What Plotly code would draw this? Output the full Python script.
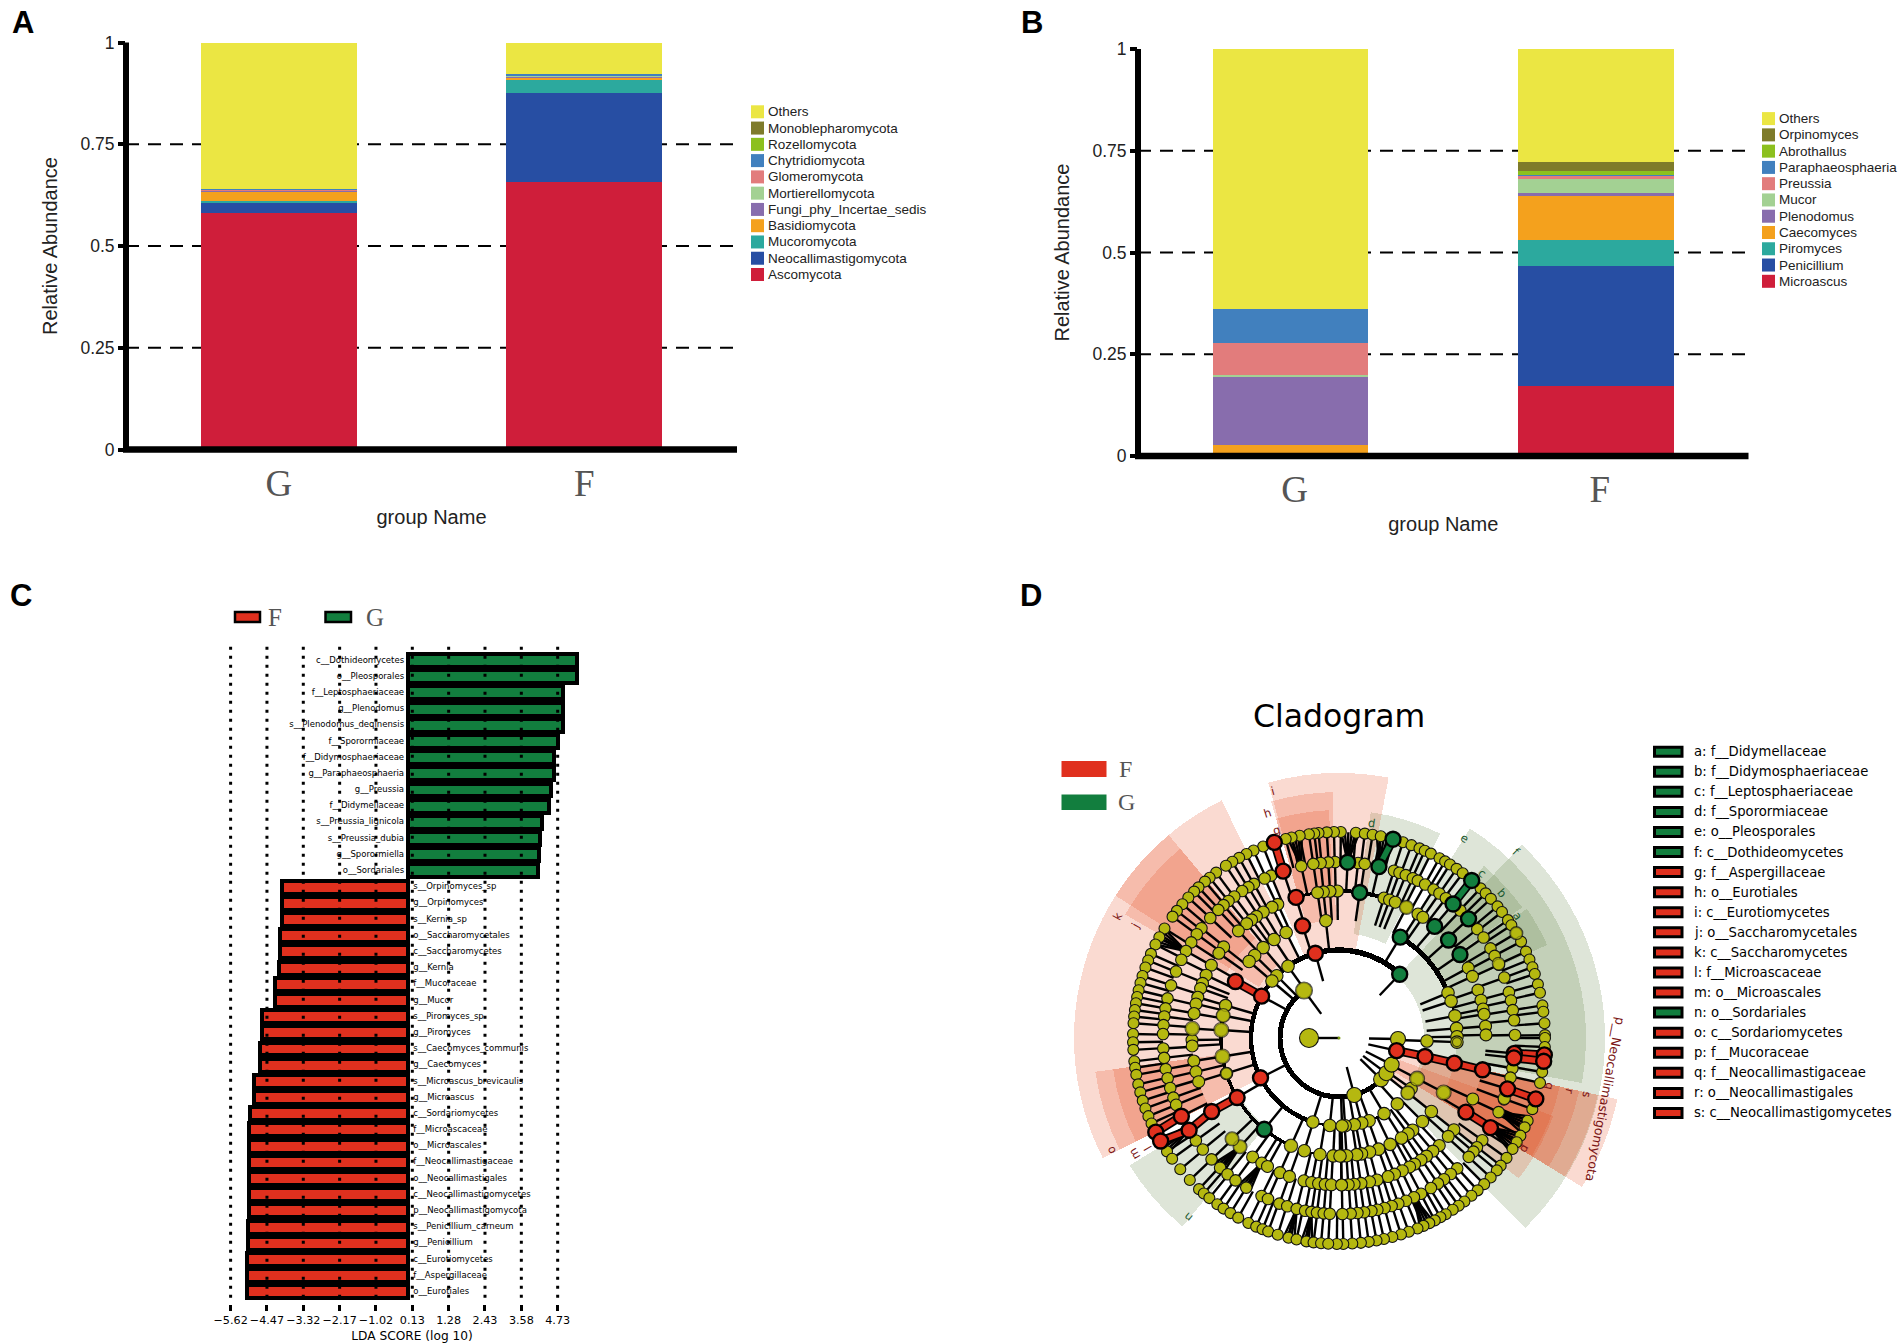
import math
import plotly.graph_objects as go

W, H = 1902, 1343
SANS = "Liberation Sans"
SERIF = "Liberation Serif"
DEJAVU = "DejaVu Sans"

# ---------- Panel A data ----------
groups = ["G", "F"]
phylum_names = ["Ascomycota", "Neocallimastigomycota", "Mucoromycota", "Basidiomycota", "Fungi_phy_Incertae_sedis",
                "Mortierellomycota", "Glomeromycota", "Chytridiomycota", "Rozellomycota", "Monoblepharomycota", "Others"]
phylum_G = [0.582, 0.025, 0.004, 0.024, 0.002, 0.001, 0.002, 0.001, 0.0, 0.0, 0.359]
phylum_F = [0.657, 0.218, 0.034, 0.006, 0.002, 0.002, 0.002, 0.001, 0.0, 0.0, 0.078]
# ---------- Panel B data ----------
genus_names = ["Microascus", "Penicillium", "Piromyces", "Caecomyces", "Plenodomus", "Mucor", "Preussia",
               "Paraphaeosphaeria", "Abrothallus", "Orpinomyces", "Others"]
genus_G = [0.001, 0.001, 0.005, 0.020, 0.169, 0.004, 0.077, 0.085, 0.0, 0.0, 0.638]
genus_F = [0.171, 0.296, 0.063, 0.108, 0.009, 0.033, 0.010, 0.001, 0.010, 0.021, 0.278]
stack_colors = ["#CF1E3A", "#274EA3", "#2CA99E", "#F4A11D", "#886DAD", "#A3D193", "#E27C7C", "#4180BE", "#8CC01E",
                "#7E7B2A", "#EBE643"]
y_ticks = [0, 0.25, 0.5, 0.75, 1]
y_tick_text = ["0", "0.25", "0.5", "0.75", "1"]
dash_levels = [0.25, 0.5, 0.75]

# ---------- Panel C data ----------
lda_green_names = ["c__Dothideomycetes", "o__Pleosporales", "f__Leptosphaeriaceae", "g__Plenodomus",
                   "s__Plenodomus_deqinensis", "f__Sporormiaceae", "f__Didymosphaeriaceae", "g__Paraphaeosphaeria",
                   "g__Preussia", "f__Didymellaceae", "s__Preussia_lignicola", "s__Preussia_dubia", "g__Sporormiella",
                   "o__Sordariales"]
lda_green = [5.35, 5.34, 4.91, 4.91, 4.91, 4.74, 4.62, 4.62, 4.53, 4.45, 4.23, 4.17, 4.15, 4.11]
lda_red_names = ["s__Orpinomyces_sp", "g__Orpinomyces", "s__Kernia_sp", "o__Saccharomycetales", "c__Saccharomycetes",
                 "g__Kernia", "f__Mucoraceae", "g__Mucor", "s__Piromyces_sp", "g__Piromyces",
                 "s__Caecomyces_communis", "g__Caecomyces", "s__Microascus_brevicaulis", "g__Microascus",
                 "c__Sordariomycetes", "f__Microascaceae", "o__Microascales", "f__Neocallimastigaceae",
                 "o__Neocallimastigales", "c__Neocallimastigomycetes", "p__Neocallimastigomycota",
                 "s__Penicillium_carneum", "g__Penicillium", "c__Eurotiomycetes", "f__Aspergillaceae", "o__Eurotiales"]
lda_red = [-4.00, -4.00, -4.00, -4.06, -4.06, -4.09, -4.20, -4.20, -4.62, -4.62, -4.69, -4.70, -4.87, -4.89, -5.02,
           -5.04, -5.04, -5.05, -5.05, -5.05, -5.05, -5.06, -5.06, -5.09, -5.09, -5.10]
lda_ticks = [-5.62, -4.47, -3.32, -2.17, -1.02, 0.13, 1.28, 2.43, 3.58, 4.73]
lda_tick_text = ["\u22125.62", "\u22124.47", "\u22123.32", "\u22122.17", "\u22121.02", "0.13", "1.28", "2.43", "3.58", "4.73"]

# ---------- Panel D data: angles (degrees), one list per ring ----------
ring_radii = [30, 59, 88, 118, 147, 176, 206]
ring206 = [89.5, 91.4, 93.4, 95.7, 96.9, 98.4, 101, 103.3, 105, 111.6, 114.5, 116.7, 119, 121.2, 123.3, 126.6, 128.9,
           130.6, 133, 134.7, 137, 139.5, 141.9, 143.9, 147.9, 150.7, 153, 155.9, 157.9, 160, 162.5, 164.5, 166.6,
           168.5, 170.3, 172.2, 174, 175.9, 178.9, 85.3, 82.8, 80.6, 78.3, 71.9, 69.4, 67, 65.4, 63.5, 60.8, 59, 57.4,
           55.2, 53.1, 46.6, 44.6, 42.5, 39.7, 37.7, 34.9, 33.2, 30.6, 27.9, 24.8, 22.4, 20.1, 18.1, 15.1, 12.7, 9.1,
           7.3, 4.1, 0.8, 0, -2.5, -9.5, -12.6, -20.2, -23.7, -25.7, -28.3, -30.4, -32.6, -35.6, -38.3, -40, -42.6,
           -45.2, -47.7, -50, -52.5, -54.5, -56.5, -58.8, -60.5, -62.3, -64, -65.8, -67.6, -70.2, -72.5, -75, -77.4,
           -79.5, -81.7, -83.9, -86.3, -88.8, -90.6, 181.2, 183.3, 186.5, 188.3, 190.3, 193, 195.3, 197.7, 200, 202.3,
           204.5, 213.4, 215.9, 219.6, 223.6, 227.2, 229, 231, 233.8, 235.9, 238.2, 240.7, 243.9, 246.3, 248.2, 249.9,
           252.7, 255.8, 258.1, 260.9, 262.9, 265, 267]
ring176 = [91.3, 93.5, 96, 98.4, 102.4, 112.7, 115, 118.9, 121, 123.4, 126.5, 128.9, 131, 133.3, 137, 141.4, 143.9,
           147.1, 150.4, 153.6, 157.8, 162.6, 167, 170.3, 173, 175.8, 178.7, 83.8, 81.6, 71.8, 69.9, 67.7, 65.2, 63.4,
           60.7, 57.5, 55.2, 52.6, 46.4, 38.2, 34.8, 30.6, 27.8, 24.6, 20.1, 15.1, 12.3, 9.1, 5.8, 1, -9.9, -13, -20.4,
           -24.9, -35.5, -38.4, -40.2, -42.5, -47.8, -50.6, -53.4, -55.8, -58.5, -62.2, -64.8, -67.6, -70.3, -72.6, -75,
           -77.4, -79.4, -81.8, -84, -86.2, -88.9, 183.4, 186.5, 190.2, 193.2, 196.5, 199.8, 202.3, 215.6, 219.3, 223.6,
           227.5, 230.7, 234, 238.2, 243.9, 246.2, 250.2, 252.9, 256.1, 258.9, 261, 262.8, 265, 267]
ring147 = [90.6, 93.5, 96.1, 98.4, 114.6, 117.1, 121, 124.2, 126.5, 128.9, 133.2, 141.7, 144.8, 150.3, 154.7, 158.2,
           160.3, 163.9, 166.6, 170.4, 176.3, 72.2, 69.9, 67.5, 62.7, 57.5, 55.2, 28.5, 24.8, 19, 14.9, 11.4, 9.3, 4.6,
           1.2, -24.5, -38.6, -42, -47, -50.3, -53.5, -56.1, -59.1, -61.3, -64.5, -67.8, -70.5, -75, -78, -81.4, -84.1,
           -86.4, -89, 180.8, 183.1, 189, 193.3, 197.3, 223.3, 227.7, 234, 238.3, 240.9, 246.3, 250.3, 256.2, 259.3,
           262, 264.6, 267, 271]
ring118 = [96.4, 116.6, 123.4, 130, 135.6, 139.6, 164, 169, 176.1, 189, 197.5, 246, 252.9, 260.7, 267.2, 271.6, 22.5,
           18.2, 10.8, 4.7, 0.6, -2, -27.5, -38.5, -45, -51.4, -54.2, -58, -64.3, -70.4, -75, -79, -81.4, -86.3, -89.5]
ring88 = [125.4, 135, 139.6, -2, -27.5, -35, -38.6, -48.5, -59.2, -70, -75, -80, -86, 252.7, 264, 272]
ring59 = [126.4, -75, -44.5, -36.6, -26.8, -1]
ring30 = [180]
ring_sizes = [19, 15, 12.5, 12.5, 12, 11.5, 11]
big_r = [59, 118, 118, 118, 118, 118, 147, 147, 147, 147, 88, 88, 118, 118, 118, 206, 176, 176]
big_t = [126.4, 164, 169, 176.1, 189, 197.5, 176.3, 62.7, 227.7, 223.3, -27.5, -38.6, 246, -27.5, -2, 30.6, 25, -20]
big_s = [17, 12, 14, 15, 15, 11, 14.5, 14, 14, 14, 15, 14, 13.5, 15, 9, 13, 12.5, 12.5]
red_r = [59, 88, 118, 147, 176, 206, 176, 206, 176, 206, 147, 176, 88, 118, 147, 176, 206, 88, 118, 88, 118, 147, 176,
         176, 206, 206]
red_t = [-12.4, -12.1, -12.3, -12.5, -5, -4.7, -6.5, -6.5, -16.8, -17.2, -30.3, -30.6, 105.6, 108, 107, 108.5, 108.3,
         151.6, 151.4, 206.9, 210.3, 210, 206.4, 211.6, 207.2, 210]
green_r = [88, 118, 147, 176, 176, 206, 147, 147, 147, 176, 176, 206, 118]
green_t = [46.4, 58.7, 81.9, 87.2, 76.9, 74.8, 49.4, 41.8, 34.6, 49.6, 42.6, 49.9, 230.7]
red_links = [[(59, -12.4), (88, -12.1), (118, -12.3), (147, -12.5)], [(176, -5), (206, -4.7)], [(176, -6.5), (206, -6.5)],
             [(176, -16.8), (206, -17.2)], [(147, -30.3), (176, -30.6)], [(176, 108.5), (206, 108.3)],
             [(88, 151.6), (118, 151.4)], [(118, 210.3), (147, 210)], [(176, 206.4), (206, 207.2)],
             [(176, 211.6), (206, 210)], [(147, 210), (176, 211.6)]]
green_links = [[(176, 76.9), (206, 74.8)], [(176, 49.6), (206, 49.9)]]
# thick branch arcs: radius, start angle, end angle, thickness
arc_r = [59, 59, 59, 88, 88, 88, 88, 118, 118, 118, 118, 118, 118, 147, 147, 147]
arc_a = [127, 285, 333, 46, 106, 125, 253, 22, 0, 189, 164, 116, 252, 91, 72, 98]
arc_b = [285, 333, 359, 106, 125, 253, 301, 59, 22, 246, 189, 140, 272, 107, 91, 107]
arc_w = [5, 5, 1.5, 5.5, 5, 4.5, 2.5, 5, 2, 3.5, 3.5, 1.5, 1.5, 2, 4, 3]
# dense fans of leaf branches that merge into black: parent radius, parent angle, child radius, child angles
fan_r0 = [176, 176, 176, 176, 176, 176, 176, 147, 147, 176, 176, 176]
fan_t0 = [87.2, 76.9, 102.4, 150.4, -24.9, -30.6, 211.6, 227.7, 238.3, 256.1, 261, -64.8]
fan_r1 = [206, 206, 206, 206, 206, 206, 206, 176, 176, 206, 206, 206]
fan_t1 = [[84.4, 85.4, 86.4, 87.4, 88.4, 89.4], [74.4, 75.4, 76.4, 77.4, 78.4, 79.4], [100.4, 101.4, 102.4, 103.4, 104.4],
          [148, 149, 150, 151, 152, 153], [-22.4, -23.4, -24.4, -25.4, -26.4, -27.4], [-27.6, -28.6, -29.6, -30.6, -31.6, -32.6, -33.6],
          [209, 210, 211, 212, 213, 214], [225.2, 226.2, 227.2, 228.2, 229.2], [235.8, 236.8, 237.8, 238.8, 239.8],
          [254.5, 255.5, 256.5, 257.5], [259.5, 260.5, 261.5, 262.5], [-62.8, -63.8, -64.8, -65.8, -66.8]]
# shaded clades: inner radius, outer radius, start angle, end angle
shade_red_in = [88, 90, 90, 118, 150, 95, 130, 118, 147, 59, 88, 118, 147, 65]
shade_red_out = [265, 265, 170, 246, 228, 265, 247, 246, 228, 285, 265, 246, 226, 228]
shade_red_a = [116.3, 79.2, 105.5, 91.5, 92.5, 130, 130, 187.9, 187.9, -31.5, -31.5, -31.5, -31.5, -38]
shade_red_b = [207, 105.5, 113, 106, 106, 147.5, 150, 207, 207, -12.4, -12.4, -12.4, -12.4, -20]
shade_green_in = [85, 118, 105, 148, 145, 145, 115]
shade_green_out = [266, 247, 228, 228, 225, 225, 245]
shade_green_a = [-45.6, -10.5, 63.7, 24.1, 35.5, 42.3, 211.3]
shade_green_b = [46.6, 58, 82, 34.5, 42.3, 49.9, 230.3]
clade_letters = ["a", "b", "c", "d", "e", "f", "g", "h", "i", "j", "k", "l", "m", "n", "o", "p", "q", "r", "s"]
clade_names = ["f__Didymellaceae", "f__Didymosphaeriaceae", "f__Leptosphaeriaceae", "f__Sporormiaceae", "o__Pleosporales",
               "c__Dothideomycetes", "f__Aspergillaceae", "o__Eurotiales", "c__Eurotiomycetes", "o__Saccharomycetales",
               "c__Saccharomycetes", "f__Microascaceae", "o__Microascales", "o__Sordariales", "c__Sordariomycetes",
               "f__Mucoraceae", "f__Neocallimastigaceae", "o__Neocallimastigales", "c__Neocallimastigomycetes"]
clade_groups = ["G", "G", "G", "G", "G", "G", "F", "F", "F", "F", "F", "F", "F", "G", "F", "F", "F", "F", "F"]
clade_label_x = [1517.7, 1501.7, 1481.7, 1371, 1464.3, 1516.7, 1276.7, 1267.7, 1272.7, 1135, 1117.7, 1148.3, 1135,
                 1188.3, 1110.6, 1525, 1550, 1569.4, 1587]
clade_label_y = [916, 893.3, 873.3, 822.7, 838.3, 851.7, 830, 813.3, 790.7, 925.7, 916, 1148.3, 1154.3, 1217.7, 1150.5,
                 1148.3, 1085.7, 1091.2, 1094.6]

RED = "#E0301E"
GREEN = "#127E3E"
NODE = "#B5B810"
DIM = "#555555"


def px(v):
    return v / W


def py(v):
    return 1 - v / H


fig = go.Figure()
shapes = []
notes = []


def note(text, x, y, size, family=SANS, color="black", xanchor="center", angle=0):
    notes.append(dict(text=text, x=px(x), y=py(y), xref="paper", yref="paper", showarrow=False, xanchor=xanchor,
                      yanchor="middle", textangle=angle, font=dict(family=family, size=size, color=color)))


def box(x0, x1, y0, y1, fill, line=None, lw=0):
    shapes.append(dict(type="rect", xref="paper", yref="paper", x0=px(x0), x1=px(x1), y0=py(y1), y1=py(y0),
                       fillcolor=fill, line=dict(color=line or fill, width=lw), layer="above"))


def stacked(names, gvals, fvals, xa, ya, x0, x1, y0, y1):
    for name, g, f, c in zip(names, gvals, fvals, stack_colors):
        fig.add_trace(go.Bar(x=groups, y=[g, f], name=name, marker=dict(color=c, line=dict(width=0)), xaxis=xa, yaxis=ya,
                             width=0.51, showlegend=False))
    for lv in dash_levels:
        shapes.append(dict(type="line", xref=xa + " domain", yref=ya, x0=0, x1=1, y0=lv, y1=lv, layer="below",
                           line=dict(color="black", width=2, dash="13px,9px")))
    shapes.append(dict(type="line", xref="paper", yref="paper", x0=px(x0 - 3), x1=px(x1), y0=py(y0), y1=py(y0), layer="above",
                       line=dict(color="black", width=6.5)))
    shapes.append(dict(type="line", xref="paper", yref="paper", x0=px(x0), x1=px(x0), y0=py(y0), y1=py(y1), layer="above",
                       line=dict(color="black", width=6)))


def bar_axes(x0, x1, y0, y1, shift):
    xaxis = dict(domain=[px(x0), px(x1)], type="category", categoryorder="array", categoryarray=groups, range=[-0.5, 1.5],
                 showgrid=False, zeroline=False, showline=False, ticks="", tickfont=dict(family=SERIF, size=37, color=DIM),
                 ticklabelstandoff=8, ticklabelshift=shift,
                 title=dict(text="group Name", font=dict(family=SANS, size=20, color="#222"), standoff=7))
    yaxis = dict(domain=[py(y0), py(y1)], range=[0, 1], tickvals=y_ticks, ticktext=y_tick_text, showgrid=False,
                 zeroline=False, showline=False, ticks="outside", ticklen=7, tickwidth=3.5, tickcolor="black",
                 tickfont=dict(family=SANS, size=17.5, color="#222"),
                 title=dict(text="Relative Abundance", font=dict(family=SANS, size=20, color="#222"), standoff=17))
    return xaxis, yaxis


def stack_legend(names, x_sw, y_top):
    pitch = 16.27
    rows = list(zip(names, stack_colors))[::-1]
    for i, (name, c) in enumerate(rows):
        y = y_top + i * pitch
        box(x_sw, x_sw + 13, y - 6.5, y + 6.5, c)
        note(name, x_sw + 14.5, y, 13.5, color="#222", xanchor="left")


# Panels A and B
stacked(phylum_names, phylum_G, phylum_F, "x", "y", 126, 737, 449.5, 42.5)
stacked(genus_names, genus_G, genus_F, "x2", "y2", 1138, 1748.5, 456, 49)
xa1, ya1 = bar_axes(126, 737, 449.5, 42.5, 0)
xa2, ya2 = bar_axes(1138, 1748.5, 456, 49, 4)
stack_legend(phylum_names, 751, 111.8)
stack_legend(genus_names, 1762, 118.6)

# Panel C
fig.add_trace(go.Bar(y=lda_green_names, x=lda_green, orientation="h", marker=dict(color=GREEN, line=dict(color="black", width=4)),
                     width=0.8, xaxis="x3", yaxis="y3", showlegend=False, name="G"))
fig.add_trace(go.Bar(y=lda_red_names, x=lda_red, orientation="h", marker=dict(color=RED, line=dict(color="black", width=4)),
                     width=0.8, xaxis="x3", yaxis="y3", showlegend=False, name="F"))
fig.add_trace(go.Scatter(y=lda_green_names, x=[-0.13] * len(lda_green_names), mode="text", text=lda_green_names,
                         textposition="middle left", textfont=dict(family=DEJAVU, size=8.5, color="black"), xaxis="x3", yaxis="y3",
                         showlegend=False, cliponaxis=False))
fig.add_trace(go.Scatter(y=lda_red_names, x=[0.16] * len(lda_red_names), mode="text", text=lda_red_names,
                         textposition="middle right", textfont=dict(family=DEJAVU, size=8.5, color="black"), xaxis="x3", yaxis="y3",
                         showlegend=False, cliponaxis=False))
for t in lda_ticks:
    shapes.append(dict(type="line", xref="x3", yref="y3 domain", x0=t, x1=t, y0=0.0095, y1=1, layer="above",
                       line=dict(color="black", width=3, dash="3px,6px")))
box(235, 260, 612, 622, RED, "black", 2.5)
box(325.5, 351, 612, 622, GREEN, "black", 2.5)
note("F", 275, 617, 25, SERIF, DIM)
note("G", 375, 617, 25, SERIF, DIM)

# Panel D
R_MAX = 300
polar_cx, polar_cy = 1339, 1038


def sector_trace(r_in, r_out, a, b, color):
    fig.add_trace(go.Barpolar(r=[o - i for i, o in zip(r_in, r_out)], base=r_in,
                              theta=[(p + q) / 2 for p, q in zip(a, b)], width=[q - p for p, q in zip(a, b)],
                              marker=dict(color=color, line=dict(width=0)), subplot="polar", showlegend=False, hoverinfo="skip"))


sector_trace(shade_green_in, shade_green_out, shade_green_a, shade_green_b, "rgba(91,127,58,0.2)")
sector_trace(shade_red_in, shade_red_out, shade_red_a, shade_red_b, "rgba(232,68,26,0.2)")
fig.add_trace(go.Barpolar(r=arc_w, base=[r - w / 2 for r, w in zip(arc_r, arc_w)],
                          theta=[(p + q) / 2 for p, q in zip(arc_a, arc_b)], width=[q - p for p, q in zip(arc_a, arc_b)],
                          marker=dict(color="black", line=dict(width=0)), subplot="polar", showlegend=False, hoverinfo="skip"))

rings = [ring30, ring59, ring88, ring118, ring147, ring176, ring206]
spoke_r, spoke_t = [], []
for k, lst in enumerate(rings):
    if k == 0:
        continue
    for t in lst:
        spoke_r += [ring_radii[k - 1], ring_radii[k], None]
        spoke_t += [t, t, None]
for rr, tt in ((red_r, red_t), (green_r, green_t)):
    for r, t in zip(rr, tt):
        spoke_r += [ring_radii[ring_radii.index(r) - 1], r, None]
        spoke_t += [t, t, None]
spoke_r += [0, 30, None]
spoke_t += [180, 180, None]
for r0, t0, r1, children in zip(fan_r0, fan_t0, fan_r1, fan_t1):
    for c in children:
        spoke_r += [r0, r1, None]
        spoke_t += [t0, c, None]
fig.add_trace(go.Scatterpolar(r=spoke_r, theta=spoke_t, mode="lines", line=dict(color="black", width=2.4), subplot="polar",
                              showlegend=False, hoverinfo="skip", connectgaps=False))
for links, col in ((red_links, RED), (green_links, GREEN)):
    for seg in links:
        rs = [p[0] for p in seg]
        ts = [p[1] for p in seg]
        fig.add_trace(go.Scatterpolar(r=rs, theta=ts, mode="lines", line=dict(color="black", width=9), subplot="polar",
                                      showlegend=False, hoverinfo="skip"))
        fig.add_trace(go.Scatterpolar(r=rs, theta=ts, mode="lines", line=dict(color=col, width=5.5), subplot="polar",
                                      showlegend=False, hoverinfo="skip"))
for k, lst in enumerate(rings):
    fig.add_trace(go.Scatterpolar(r=[ring_radii[k]] * len(lst), theta=lst, mode="markers", subplot="polar", showlegend=False,
                                  marker=dict(color=NODE, size=ring_sizes[k], line=dict(color="#111", width=1.1)), hoverinfo="skip"))
fig.add_trace(go.Scatterpolar(r=big_r, theta=big_t, mode="markers", subplot="polar", showlegend=False,
                              marker=dict(color=NODE, size=big_s, line=dict(color="#111", width=1.1)), hoverinfo="skip"))
fig.add_trace(go.Scatterpolar(r=red_r, theta=red_t, mode="markers", subplot="polar", showlegend=False,
                              marker=dict(color=RED, size=15, line=dict(color="black", width=2.4)), hoverinfo="skip"))
fig.add_trace(go.Scatterpolar(r=green_r, theta=green_t, mode="markers", subplot="polar", showlegend=False,
                              marker=dict(color=GREEN, size=15, line=dict(color="black", width=2.4)), hoverinfo="skip"))
fig.add_trace(go.Scatterpolar(r=[0], theta=[0], mode="markers", subplot="polar", showlegend=False,
                              marker=dict(color="#7A9A10", size=3), hoverinfo="skip"))

note("Cladogram", 1339, 716, 31.5, DEJAVU)
box(1061.5, 1106.5, 761, 777, RED)
box(1061.5, 1106.5, 794.5, 810, GREEN)
note("F", 1125.7, 769, 24, SERIF, DIM)
note("G", 1126.5, 802, 24, SERIF, DIM)
for letter, lx, ly, grp in zip(clade_letters, clade_label_x, clade_label_y, clade_groups):
    ang = math.degrees(math.atan2(polar_cy - ly, lx - polar_cx))
    note(letter, lx, ly, 11.5, DEJAVU, "#7A1414" if grp == "F" else "#1D5A30", angle=90 - ang)
note("p__Neocallimastigomycota", 1605, 1098.8, 12.5, DEJAVU, "#7A1414", angle=100.6)
for i, (letter, name, grp) in enumerate(zip(clade_letters, clade_names, clade_groups)):
    y = 751.7 + i * 20.07
    box(1654.5, 1682, y - 4.5, y + 4.5, GREEN if grp == "G" else RED, "black", 3)
    note(f"{letter}: {name}", 1692, y, 13.2, DEJAVU, xanchor="left")

# Panel letters
for letter, lx, ly in (("A", 23, 22), ("B", 1031.5, 22), ("C", 21, 596), ("D", 1031, 596)):
    note(f"<b>{letter}</b>", lx, ly, 31)

fig.update_layout(
    width=W, height=H, autosize=False, margin=dict(l=0, r=0, t=0, b=0, pad=0, autoexpand=False), paper_bgcolor="white", plot_bgcolor="white",
    barmode="stack", showlegend=False, shapes=shapes, annotations=notes,
    xaxis=xa1, yaxis=ya1, xaxis2={**xa2, "anchor": "y2"}, yaxis2={**ya2, "anchor": "x2"},
    xaxis3=dict(domain=[px(222), px(602)], range=[(222 - 408.2) / 31.6, (602 - 408.2) / 31.6], anchor="y3", tickvals=lda_ticks,
                ticktext=lda_tick_text, showgrid=False, zeroline=False, showline=False, ticks="outside", ticklen=6, tickwidth=2.5,
                tickcolor="black", tickfont=dict(family=DEJAVU, size=11.2, color="black"),
                title=dict(text="LDA SCORE (log 10)", font=dict(family=DEJAVU, size=12.2, color="black"), standoff=5)),
    yaxis3=dict(domain=[py(1304), py(642)], type="category", categoryorder="array",
                categoryarray=lda_green_names + lda_red_names, range=[39.75, -1.14], visible=False, anchor="x3"),
    polar=dict(domain=dict(x=[px(polar_cx - R_MAX), px(polar_cx + R_MAX)], y=[py(polar_cy + R_MAX), py(polar_cy - R_MAX)]),
               bgcolor="rgba(0,0,0,0)", barmode="overlay",
               radialaxis=dict(range=[0, R_MAX], visible=False), angularaxis=dict(visible=False, direction="counterclockwise", rotation=0)),
)
fig.write_html("out.html", config={"displayModeBar": False}, post_script="document.body.style.margin='0';")
